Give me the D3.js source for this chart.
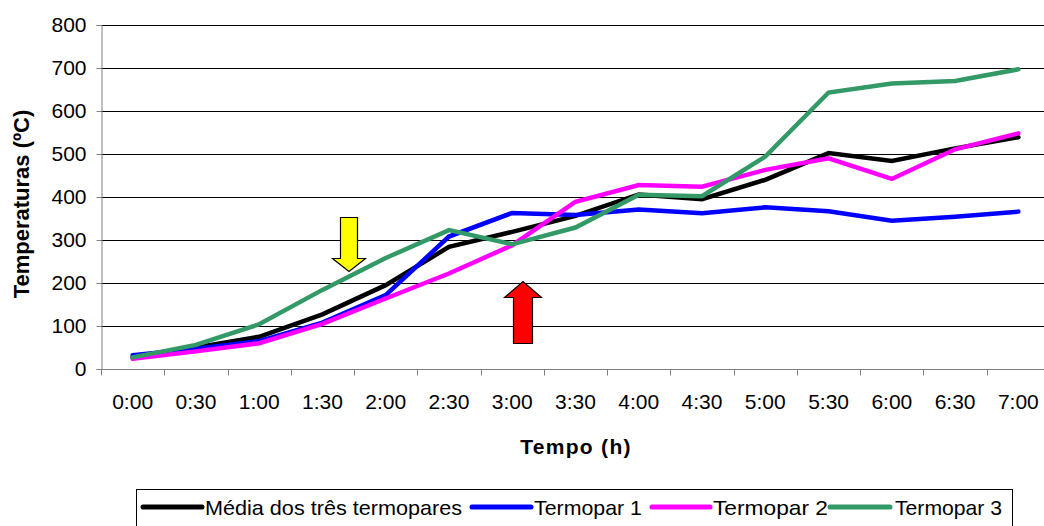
<!DOCTYPE html>
<html>
<head>
<meta charset="utf-8">
<script src="https://cdn.jsdelivr.net/npm/d3@7"></script>
<style>
  body { margin: 0; background: #fff; }
  svg { display: block; font-family: "Liberation Sans", Arial, sans-serif; }
</style>
</head>
<body>
<div id="chart"></div>
<script>
// chart values
var times = ["0:00", "0:30", "1:00", "1:30", "2:00", "2:30", "3:00", "3:30",
             "4:00", "4:30", "5:00", "5:30", "6:00", "6:30", "7:00"];
var media = [27, 50, 75, 127, 195, 284, 319, 356, 406, 395, 440, 502, 484, 513, 539];
var termopar1 = [32, 47, 65, 108, 172, 308, 363, 358, 371, 362, 376, 367, 345, 354, 366];
var termopar2 = [24, 41, 60, 105, 164, 222, 288, 389, 428, 424, 463, 490, 442, 511, 548];
var termopar3 = [27, 56, 104, 184, 258, 323, 290, 329, 405, 402, 494, 643, 664, 670, 697];
var yTicks = [0, 100, 200, 300, 400, 500, 600, 700, 800];

var series = [
    {name: "Média dos três termopares", values: media, color: "#000000"},
    {name: "Termopar 1", values: termopar1, color: "#0000ff"},
    {name: "Termopar 2", values: termopar2, color: "#ff00ff"},
    {name: "Termopar 3", values: termopar3, color: "#339966"}
];

var W = 1044, H = 526;
var margin = {top: 25, left: 101},
    width = 949,
    height = 344;

var svg = d3.select("#chart").append("svg")
    .attr("width", W)
    .attr("height", H);

var g = svg.append("g")
    .attr("transform", "translate(" + margin.left + "," + margin.top + ")");

var x = d3.scaleBand()
    .domain(times)
    .range([0, width]);

var y = d3.scaleLinear()
    .domain([0, 800])
    .range([height, 0]);

// gridlines
g.selectAll(".grid")
    .data(yTicks.filter(function(d) { return d > 0; }))
  .enter().append("line")
    .attr("class", "grid")
    .attr("x1", 0)
    .attr("x2", width)
    .attr("y1", function(d) { return Math.round(y(d)) + 0.5; })
    .attr("y2", function(d) { return Math.round(y(d)) + 0.5; })
    .style("stroke", "#000")
    .style("stroke-width", 1);

// y axis
var yAxis = g.append("g")
    .attr("transform", "translate(0.5,0)")
    .call(d3.axisLeft(y).tickValues(yTicks).tickSize(5).tickPadding(10));
yAxis.select(".domain").style("stroke", "#808080");
yAxis.selectAll(".tick line").style("stroke", "#808080");
yAxis.selectAll("text")
    .style("font-size", "21px")
    .style("fill", "#000");

// x axis, ticks between categories
var xAxis = g.append("g")
    .attr("transform", "translate(0," + (height + 0.5) + ")");
xAxis.append("line")
    .attr("x1", 0).attr("x2", width)
    .style("stroke", "#808080");
xAxis.selectAll(".xtick")
    .data(times)
  .enter().append("line")
    .attr("class", "xtick")
    .attr("x1", function(d) { return Math.round(x(d)) + 0.5; })
    .attr("x2", function(d) { return Math.round(x(d)) + 0.5; })
    .attr("y1", 0)
    .attr("y2", 6)
    .style("stroke", "#808080");
xAxis.selectAll(".xlabel")
    .data(times)
  .enter().append("text")
    .attr("class", "xlabel")
    .attr("x", function(d) { return x(d) + x.bandwidth() / 2; })
    .attr("y", 39)
    .attr("text-anchor", "middle")
    .style("font-size", "21px")
    .text(function(d) { return d; });

// lines
var line = d3.line()
    .x(function(d, i) { return x(times[i]) + x.bandwidth() / 2; })
    .y(function(d) { return y(d); });

g.selectAll(".series")
    .data(series)
  .enter().append("path")
    .attr("class", "series")
    .attr("d", function(d) { return line(d.values); })
    .style("fill", "none")
    .style("stroke", function(d) { return d.color; })
    .style("stroke-width", 4.5)
    .style("stroke-linecap", "round")
    .style("stroke-linejoin", "miter");

// arrows (annotations)
svg.append("path")
    .attr("d", "M340.5,217.5 L357.5,217.5 L357.5,258.5 L365.5,258.5 L349,271.5 L332.5,258.5 L340.5,258.5 Z")
    .style("fill", "#ffff00")
    .style("stroke", "#000")
    .style("stroke-width", 1.2);

svg.append("path")
    .attr("d", "M513.5,343.5 L532.5,343.5 L532.5,297.5 L541.5,297.5 L523,281.5 L504.5,297.5 L513.5,297.5 Z")
    .style("fill", "#ff0000")
    .style("stroke", "#000")
    .style("stroke-width", 1.2);

// axis titles
svg.append("text")
    .attr("transform", "translate(29,204) rotate(-90)")
    .attr("text-anchor", "middle")
    .style("font-size", "22px")
    .style("font-weight", "bold")
    .text("Temperaturas (ºC)");

svg.append("text")
    .attr("x", 576)
    .attr("y", 454)
    .attr("text-anchor", "middle")
    .style("font-size", "21px")
    .style("font-weight", "bold")
    .style("letter-spacing", "1.3px")
    .text("Tempo (h)");

// legend
svg.append("rect")
    .attr("x", 136.5)
    .attr("y", 489.5)
    .attr("width", 876)
    .attr("height", 50)
    .style("fill", "#fff")
    .style("stroke", "#000")
    .style("stroke-width", 1);

var legendPos = [
    {x1: 143, x2: 202, tx: 205, tw: 257},
    {x1: 472, x2: 531, tx: 534, tw: 108},
    {x1: 652, x2: 710, tx: 713, tw: 115},
    {x1: 830, x2: 890, tx: 895, tw: 107}
];

var legend = svg.selectAll(".legend")
    .data(series)
  .enter().append("g")
    .attr("class", "legend");

legend.append("line")
    .attr("x1", function(d, i) { return legendPos[i].x1; })
    .attr("x2", function(d, i) { return legendPos[i].x2; })
    .attr("y1", 507)
    .attr("y2", 507)
    .style("stroke", function(d) { return d.color; })
    .style("stroke-width", 5)
    .style("stroke-linecap", "round");

legend.append("text")
    .attr("x", function(d, i) { return legendPos[i].tx; })
    .attr("y", 515)
    .attr("textLength", function(d, i) { return legendPos[i].tw; })
    .attr("lengthAdjust", "spacingAndGlyphs")
    .style("font-size", "21px")
    .text(function(d) { return d.name; });
</script>
</body>
</html>
